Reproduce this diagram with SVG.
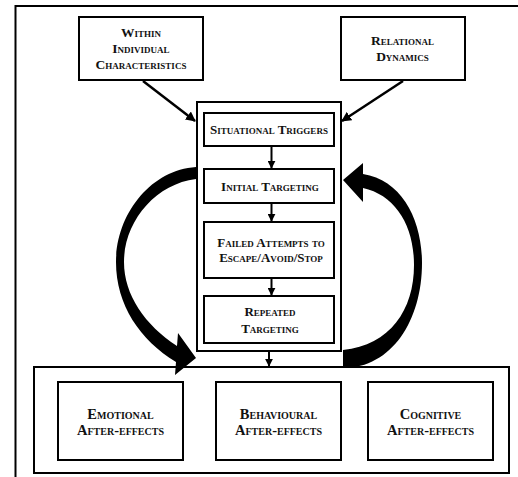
<svg xmlns="http://www.w3.org/2000/svg" width="518" height="477" viewBox="0 0 518 477">
<defs>
<style>
.box{fill:#fff;stroke:#000;stroke-width:2}
.frame{fill:none;stroke:#000;stroke-width:2}
.t{font-family:"Liberation Serif","Times New Roman",serif;font-weight:bold;font-variant:small-caps;font-size:13.5px;text-anchor:middle;fill:#111}
.c{font-size:13px}
.b{font-size:14.5px}
.ln{stroke:#000;stroke-width:2;fill:none}
.dg{stroke-width:2.5}
.big{fill:#000;stroke:none}
</style>
<marker id="ah" viewBox="0 0 10 10" refX="9" refY="5" markerWidth="4" markerHeight="4" orient="auto" markerUnits="strokeWidth">
<path d="M0,0 L10,5 L0,10 z" fill="#000"/>
</marker>
</defs>
<rect width="518" height="477" fill="#fff"/>
<path class="frame" d="M15.5,477 V6 H518" stroke="#222"/>

<g id="within">
<rect class="box" x="79" y="17" width="124" height="63"/>
<text class="t" x="141" y="37">Within</text>
<text class="t" x="141" y="53">Individual</text>
<text class="t" x="141" y="69">Characteristics</text>
</g>
<g id="relational">
<rect class="box" x="341" y="17" width="124" height="63"/>
<text class="t" x="402.5" y="45">Relational</text>
<text class="t" x="402.5" y="61">Dynamics</text>
</g>

<g id="container">
<rect class="box" x="197" y="102" width="144" height="249"/>
</g>
<g id="situational">
<rect class="box" x="204" y="113" width="130" height="33"/>
<text class="t c" x="269" y="134">Situational Triggers</text>
</g>
<g id="initial">
<rect class="box" x="204" y="169" width="130" height="34"/>
<text class="t c" x="270" y="191">Initial Targeting</text>
</g>
<g id="failed">
<rect class="box" x="204" y="222" width="130" height="56"/>
<text class="t c" x="271" y="247">Failed Attempts to</text>
<text class="t c" x="271" y="262">Escape/Avoid/Stop</text>
</g>
<g id="repeated">
<rect class="box" x="204" y="296" width="130" height="47"/>
<text class="t c" x="270" y="316">Repeated</text>
<text class="t c" x="270" y="333">Targeting</text>
</g>

<g id="aftereffects">
<rect class="box" x="34" y="367" width="475" height="106"/>
</g>
<g id="emotional">
<rect class="box" x="58" y="382" width="125" height="78"/>
<text class="t b" x="120.5" y="419">Emotional</text>
<text class="t b" x="120.5" y="435">After-effects</text>
</g>
<g id="behavioural">
<rect class="box" x="216" y="382" width="125" height="78"/>
<text class="t b" x="278.5" y="419">Behavioural</text>
<text class="t b" x="278.5" y="435">After-effects</text>
</g>
<g id="cognitive">
<rect class="box" x="368" y="382" width="125" height="78"/>
<text class="t b" x="430.5" y="419">Cognitive</text>
<text class="t b" x="430.5" y="435">After-effects</text>
</g>

<g id="connectors">
<line class="ln dg" x1="143" y1="81" x2="195" y2="121" marker-end="url(#ah)"/>
<line class="ln dg" x1="403" y1="81" x2="342" y2="121" marker-end="url(#ah)"/>
<line class="ln" x1="271.5" y1="146" x2="271.5" y2="168" marker-end="url(#ah)"/>
<line class="ln" x1="271.5" y1="203" x2="271.5" y2="221" marker-end="url(#ah)"/>
<line class="ln" x1="271.5" y1="278" x2="271.5" y2="295" marker-end="url(#ah)"/>
<line class="ln" x1="269" y1="351" x2="269" y2="366" marker-end="url(#ah)"/>
<path class="big" d="M196,167 C150,170 116,215 116,262 C116,305 140,340 176,362 L175,375 L196,358 L178,333 L177,346 C145,325 124,295 124,262 C124,222 155,184 196,179 Z"/>
<path class="big" d="M343,350 C390,345 414,310 414,265 C414,225 395,195 363,188 L363,202 L343,180 L363,163 L363,174 C402,180 422,220 422,263 C422,320 392,368 343,368 Z"/>
</g>
</svg>
